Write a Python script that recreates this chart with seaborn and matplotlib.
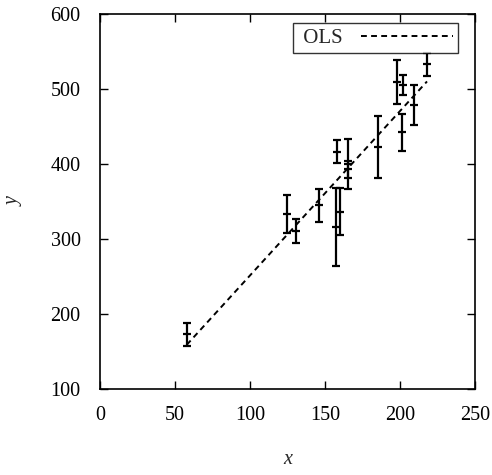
import numpy as np
import pandas as pd

import matplotlib
matplotlib.use("Agg")
import matplotlib.pyplot as plt
import seaborn as sns

# data
x_vals = [57.8, 124.9, 130.7, 146.0, 157.1, 160.0, 158.0, 165.5, 165.0, 185.6, 197.8, 201.8, 201.1, 209.6, 218.0]
y_vals = [173.0, 333.7, 310.7, 345.0, 316.4, 336.4, 416.4, 400.0, 393.0, 423.0, 509.8, 505.3, 442.2, 478.7, 533.0]
y_err = [15.0, 25.6, 15.6, 21.7, 52.0, 31.0, 15.5, 33.0, 11.0, 41.3, 29.5, 13.3, 24.7, 27.1, 15.5]

df = pd.DataFrame({"x": x_vals, "y": y_vals, "err": y_err})

sns.set_style("ticks")
plt.rcParams["font.family"] = ["Liberation Serif", "DejaVu Serif"]

fig = plt.figure(figsize=(4.92, 4.75), dpi=100)
ax = fig.add_axes([100 / 492, 1 - 389 / 475, 375 / 492, 375 / 475])

ax.errorbar(df["x"], df["y"], yerr=df["err"], fmt="_", color="black",
            ms=6, mew=1.6, elinewidth=1.6, capsize=3, capthick=1.6)

sns.regplot(data=df, x="x", y="y", ax=ax, scatter=False, ci=None, truncate=True,
            line_kws=dict(color="black", lw=1.4, ls=(0, (3, 2.2))), label=" OLS")

ax.set_xlim(0, 250)
ax.set_ylim(100, 600)
ax.set_xticks([0, 50, 100, 150, 200, 250])
ax.set_yticks([100, 200, 300, 400, 500, 600])

ax.tick_params(direction="in", length=6, width=1, top=True, right=True,
               labelsize=14.5, colors="black")
ax.tick_params(axis="x", pad=12)
ax.tick_params(axis="y", pad=14)
for s in ax.spines.values():
    s.set_linewidth(1.2)
    s.set_color("black")

ax.set_xlabel("x", style="italic", fontsize=14.5, labelpad=18)
ax.set_ylabel("y", style="italic", fontsize=14.5, labelpad=19)

leg = ax.legend(loc="upper right", fontsize=15, frameon=True, fancybox=False,
                handlelength=4.4, handletextpad=0.9, borderpad=0.25, borderaxespad=0,
                edgecolor="black", bbox_to_anchor=(0.9547, 0.976), markerfirst=False)
leg.get_frame().set_linewidth(1.0)

fig.savefig("out.png", dpi=100)
